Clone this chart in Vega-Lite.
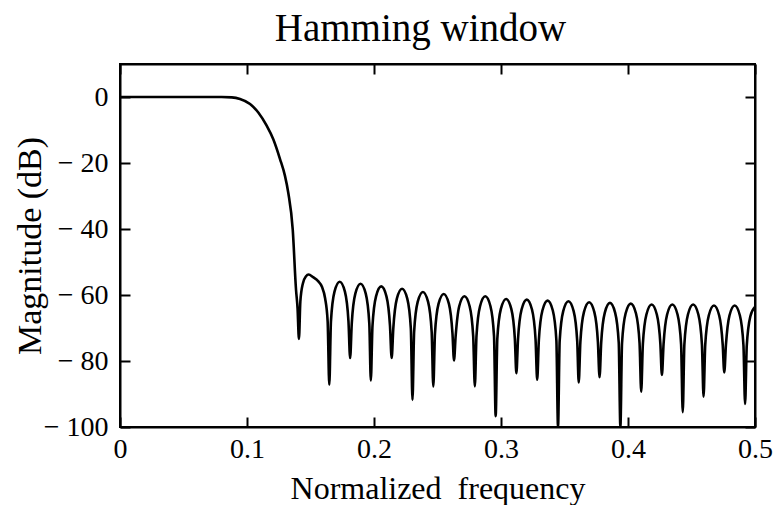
{
  "$schema": "https://vega.github.io/schema/vega-lite/v6.json",
  "width": 635,
  "height": 363,
  "autosize": {"type": "none"},
  "padding": {"left": 120, "top": 64, "right": 20, "bottom": 78},
  "background": "white",
  "title": {
    "text": "Hamming window",
    "font": "Liberation Serif",
    "fontSize": 39,
    "fontWeight": "normal",
    "color": "black",
    "offset": 14,
    "dx": -17
  },
  "config": {
    "view": {"stroke": "black", "strokeWidth": 2},
    "axis": {
      "grid": false,
      "domainColor": "black",
      "domainWidth": 2,
      "tickColor": "black",
      "tickWidth": 2,
      "tickSize": -10,
      "labelColor": "black",
      "labelFont": "Liberation Serif",
      "labelFontSize": 28,
      "labelPadding": 22,
      "labelFlush": false,
      "labelOverlap": false,
      "titleColor": "black",
      "titleFont": "Liberation Serif",
      "titleFontSize": 32,
      "titleFontWeight": "normal"
    }
  },
  "data": {
    "values": [
      {"f": 0.0, "db": 0},
      {"f": 0.02, "db": 0},
      {"f": 0.04, "db": 0},
      {"f": 0.06, "db": 0},
      {"f": 0.08, "db": 0},
      {"f": 0.088, "db": -0.1},
      {"f": 0.0945, "db": -0.6},
      {"f": 0.1024, "db": -2.1},
      {"f": 0.1089, "db": -4.7},
      {"f": 0.1155, "db": -8.7},
      {"f": 0.1207, "db": -12.8},
      {"f": 0.126, "db": -18.8},
      {"f": 0.1299, "db": -23.9},
      {"f": 0.1325, "db": -29.0},
      {"f": 0.136, "db": -40.1},
      {"f": 0.1386, "db": -58.4},
      {"f": 0.1398, "db": -64.0},
      {"f": 0.1409, "db": -73.3},
      {"f": 0.142, "db": -62.0},
      {"f": 0.144, "db": -56.5},
      {"f": 0.1465, "db": -54.3},
      {"f": 0.1485, "db": -53.8},
      {"f": 0.152, "db": -54.6},
      {"f": 0.156, "db": -55.8},
      {"f": 0.159, "db": -57.5},
      {"f": 0.1615, "db": -61.0},
      {"f": 0.1635, "db": -68.0},
      {"f": 0.1648, "db": -87.2},
      {"f": 0.1661, "db": -68.0},
      {"f": 0.1689, "db": -59.0},
      {"f": 0.173, "db": -56.0},
      {"f": 0.1771, "db": -59.0},
      {"f": 0.1799, "db": -68.0},
      {"f": 0.1812, "db": -79.1},
      {"f": 0.1825, "db": -68.6},
      {"f": 0.1853, "db": -59.6},
      {"f": 0.1894, "db": -56.6},
      {"f": 0.1935, "db": -59.6},
      {"f": 0.1963, "db": -68.6},
      {"f": 0.1975, "db": -85.9},
      {"f": 0.1988, "db": -69.4},
      {"f": 0.2016, "db": -60.4},
      {"f": 0.2057, "db": -57.4},
      {"f": 0.2098, "db": -60.4},
      {"f": 0.2126, "db": -69.4},
      {"f": 0.2139, "db": -79.1},
      {"f": 0.2152, "db": -70.1},
      {"f": 0.218, "db": -61.1},
      {"f": 0.2221, "db": -58.1},
      {"f": 0.2262, "db": -61.1},
      {"f": 0.229, "db": -70.1},
      {"f": 0.2303, "db": -91.8},
      {"f": 0.2316, "db": -71.1},
      {"f": 0.2344, "db": -62.1},
      {"f": 0.2385, "db": -59.1},
      {"f": 0.2426, "db": -62.1},
      {"f": 0.2454, "db": -71.1},
      {"f": 0.2467, "db": -87.7},
      {"f": 0.248, "db": -71.7},
      {"f": 0.2508, "db": -62.7},
      {"f": 0.2549, "db": -59.7},
      {"f": 0.259, "db": -62.7},
      {"f": 0.2618, "db": -71.7},
      {"f": 0.263, "db": -79.8},
      {"f": 0.2643, "db": -72.4},
      {"f": 0.2671, "db": -63.4},
      {"f": 0.2712, "db": -60.4},
      {"f": 0.2753, "db": -63.4},
      {"f": 0.2781, "db": -72.4},
      {"f": 0.2794, "db": -87.7},
      {"f": 0.2807, "db": -72.4},
      {"f": 0.2835, "db": -63.4},
      {"f": 0.2876, "db": -60.4},
      {"f": 0.2917, "db": -63.4},
      {"f": 0.2945, "db": -72.4},
      {"f": 0.2958, "db": -96.7},
      {"f": 0.2971, "db": -73.2},
      {"f": 0.2999, "db": -64.2},
      {"f": 0.304, "db": -61.2},
      {"f": 0.3081, "db": -64.2},
      {"f": 0.3109, "db": -73.2},
      {"f": 0.3121, "db": -83.7},
      {"f": 0.3134, "db": -73.4},
      {"f": 0.3162, "db": -64.4},
      {"f": 0.3203, "db": -61.4},
      {"f": 0.3244, "db": -64.4},
      {"f": 0.3272, "db": -73.4},
      {"f": 0.3285, "db": -85.7},
      {"f": 0.3298, "db": -73.7},
      {"f": 0.3326, "db": -64.7},
      {"f": 0.3367, "db": -61.7},
      {"f": 0.3408, "db": -64.7},
      {"f": 0.3436, "db": -73.7},
      {"f": 0.3449, "db": -100.0},
      {"f": 0.3462, "db": -73.9},
      {"f": 0.349, "db": -64.9},
      {"f": 0.3531, "db": -61.9},
      {"f": 0.3572, "db": -64.9},
      {"f": 0.36, "db": -73.9},
      {"f": 0.3612, "db": -86.5},
      {"f": 0.3625, "db": -74.2},
      {"f": 0.3653, "db": -65.2},
      {"f": 0.3694, "db": -62.2},
      {"f": 0.3735, "db": -65.2},
      {"f": 0.3763, "db": -74.2},
      {"f": 0.3776, "db": -84.9},
      {"f": 0.3789, "db": -74.4},
      {"f": 0.3817, "db": -65.4},
      {"f": 0.3858, "db": -62.4},
      {"f": 0.3899, "db": -65.4},
      {"f": 0.3927, "db": -74.4},
      {"f": 0.394, "db": -100.0},
      {"f": 0.3953, "db": -74.6},
      {"f": 0.3981, "db": -65.6},
      {"f": 0.4022, "db": -62.6},
      {"f": 0.4063, "db": -65.6},
      {"f": 0.4091, "db": -74.6},
      {"f": 0.4104, "db": -89.3},
      {"f": 0.4117, "db": -74.9},
      {"f": 0.4145, "db": -65.9},
      {"f": 0.4186, "db": -62.9},
      {"f": 0.4227, "db": -65.9},
      {"f": 0.4255, "db": -74.9},
      {"f": 0.4267, "db": -84.2},
      {"f": 0.428, "db": -74.9},
      {"f": 0.4308, "db": -65.9},
      {"f": 0.4349, "db": -62.9},
      {"f": 0.439, "db": -65.9},
      {"f": 0.4418, "db": -74.9},
      {"f": 0.4431, "db": -95.5},
      {"f": 0.4444, "db": -74.9},
      {"f": 0.4472, "db": -65.9},
      {"f": 0.4513, "db": -62.9},
      {"f": 0.4554, "db": -65.9},
      {"f": 0.4582, "db": -74.9},
      {"f": 0.4595, "db": -90.8},
      {"f": 0.4608, "db": -75.2},
      {"f": 0.4636, "db": -66.2},
      {"f": 0.4677, "db": -63.2},
      {"f": 0.4718, "db": -66.2},
      {"f": 0.4746, "db": -75.2},
      {"f": 0.4758, "db": -83.5},
      {"f": 0.4771, "db": -75.2},
      {"f": 0.4799, "db": -66.2},
      {"f": 0.484, "db": -63.2},
      {"f": 0.4881, "db": -66.2},
      {"f": 0.4909, "db": -75.2},
      {"f": 0.4922, "db": -93.0},
      {"f": 0.4935, "db": -75.5},
      {"f": 0.4963, "db": -66.5},
      {"f": 0.5, "db": -63.6}
    ]
  },
  "layer": [
    {
      "mark": {"type": "line", "color": "black", "strokeWidth": 2.6, "interpolate": "monotone", "clip": true},
      "encoding": {
        "x": {
          "field": "f",
          "type": "quantitative",
          "scale": {"domain": [0, 0.5], "nice": false, "zero": false},
          "axis": {
            "orient": "bottom",
            "values": [0, 0.1, 0.2, 0.3, 0.4, 0.5],
            "labelExpr": "datum.value == 0 ? '0' : format(datum.value, '.1f')",
            "labelPadding": 18,
            "title": "Normalized\u2002frequency",
            "titlePadding": 10
          }
        },
        "y": {
          "field": "db",
          "type": "quantitative",
          "scale": {"domain": [-100, 10], "nice": false, "zero": false},
          "axis": {
            "orient": "left",
            "values": [0, -20, -40, -60, -80, -100],
            "labelExpr": "datum.value < 0 ? '\u2212 ' + abs(datum.value) : '0'",
            "title": "Magnitude (dB)",
            "titleFontSize": 34,
            "titlePadding": -4
          }
        }
      }
    },
    {
      "mark": {"type": "line", "opacity": 0},
      "encoding": {
        "x": {
          "field": "f",
          "type": "quantitative",
          "axis": {"orient": "top", "values": [0, 0.1, 0.2, 0.3, 0.4, 0.5], "labels": false, "title": null}
        },
        "y": {
          "field": "db",
          "type": "quantitative",
          "axis": {"orient": "right", "values": [0, -20, -40, -60, -80, -100], "labels": false, "title": null}
        }
      }
    }
  ],
  "resolve": {"axis": {"x": "independent", "y": "independent"}}
}
